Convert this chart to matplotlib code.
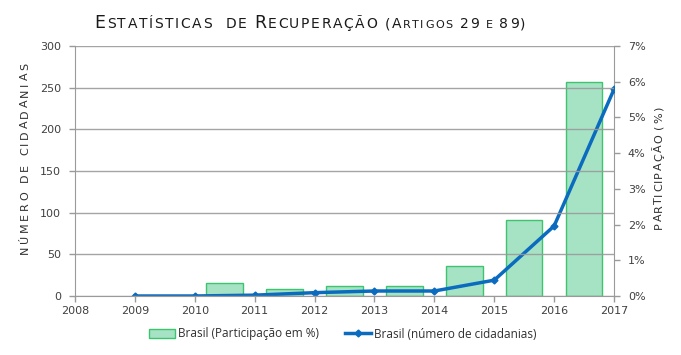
import matplotlib
matplotlib.use("Agg")
import matplotlib.pyplot as plt
import numpy as np
from matplotlib.font_manager import FontProperties

years = [2008, 2009, 2010, 2011, 2012, 2013, 2014, 2015, 2016, 2017]
line_years = [2009, 2010, 2011, 2012, 2013, 2014, 2015, 2016, 2017]
cidadanias = [0, 0, 1, 4, 6, 6, 19, 84, 248]
bar_years = [2010, 2011, 2012, 2013, 2014, 2015, 2016]
participacao = [0.36, 0.19, 0.29, 0.29, 0.83, 2.12, 5.98]
left_ticks = [0, 50, 100, 150, 200, 250, 300]
right_ticks = [0, 1, 2, 3, 4, 5, 6, 7]

W, H = 681, 355
fig = plt.figure(figsize=(W / 100, H / 100), dpi=100)
ax1 = fig.add_axes([75 / W, 1 - 296 / H, (614 - 75) / W, (296 - 46) / H])
ax2 = ax1.twinx()
ax1.set_zorder(ax2.get_zorder() + 1)
ax1.patch.set_visible(False)

gray = "#9a9a9a"
txt = "#404040"

# bars (right axis), centered between year ticks
xb = [y + 0.5 for y in bar_years]
ax2.bar(xb, participacao, width=0.61, color="#a6e3c4", edgecolor="#3cc46e",
        linewidth=1.0, label="Brasil (Participação em %)")
ax2.set_ylim(0, 7)
ax2.set_yticks(right_ticks)
ax2.set_yticklabels([f"{t}%" for t in right_ticks])

ln, = ax1.plot(line_years, cidadanias, color="#0a6bbf", lw=2.5, marker="D",
               markersize=3.5, label="Brasil (número de cidadanias)")
ax1.set_ylim(0, 300)
ax1.set_yticks(left_ticks)
ax1.set_xlim(2008, 2017)
ax1.set_xticks(years)
ax1.grid(axis="y", color=gray, lw=1.0, alpha=0.9)
ax1.set_axisbelow(False)

for a in (ax1, ax2):
    a.spines["top"].set_visible(False)
    for s in ("left", "right", "bottom"):
        a.spines[s].set_color(gray)
    a.tick_params(colors=gray, labelcolor=txt, labelsize=8, length=4, width=1)
ax2.spines["left"].set_visible(False)
ax2.spines["bottom"].set_visible(False)
ax1.spines["right"].set_visible(False)
ax1.tick_params(axis="x", pad=3)
ax1.tick_params(axis="y", pad=6)
ax2.tick_params(axis="y", pad=6)

# legend
handles = [ax2.containers[0], ln]
leg = fig.legend(handles, [h.get_label() for h in handles], loc="center",
                 bbox_to_anchor=(343 / W, 1 - 334 / H), ncol=2, frameon=False,
                 prop={"family": "Open Sans", "size": 8.5}, handlelength=2.2,
                 columnspacing=2.2, handletextpad=0.25)
for t in leg.get_texts():
    t.set_color("#303030")

renderer = fig.canvas.get_renderer()


def spaced(pieces, x, y, track, rotation=0, color="#303030", family="DejaVu Sans"):
    widths = []
    for ch, sz in pieces:
        fp = FontProperties(family=family, size=sz)
        if ch == " ":
            w, _, _ = renderer.get_text_width_height_descent("a a", fp, ismath=False)
            w2, _, _ = renderer.get_text_width_height_descent("aa", fp, ismath=False)
            w = w - w2
        else:
            w, _, _ = renderer.get_text_width_height_descent(ch, fp, ismath=False)
        widths.append(w)
    total = sum(widths) + track * (len(pieces) - 1)
    pos = -total / 2
    for (ch, sz), w in zip(pieces, widths):
        c = pos + w / 2
        if rotation == 0:
            fig.text((x + c) / W, 1 - y / H, ch, size=sz, family=family, color=color,
                     ha="center", va="baseline")
        else:
            fig.text(x / W, 1 - (y - c) / H, ch, size=sz, family=family, color=color,
                     ha="center", va="center", rotation=90, rotation_mode="anchor")
        pos += w + track


def smallcaps(s, big, small):
    out = []
    for ch in s:
        if ch.isupper() or ch.isdigit() or ch in "()":
            out.append((ch, big))
        else:
            out.append((ch.upper(), small))
    return out


spaced(smallcaps("Estatísticas  de Recuperação", 12.5, 10) +
       [(" ", 9.5)] + smallcaps("(Artigos 29 e 89)", 10, 8),
       310, 28, 1.6, color="#1a1a1a")

spaced([(c, 8) for c in "NÚMERO DE CIDADANIAS"], 25, 158, 2.6, rotation=90, color="#303030")
spaced([(c, 8) for c in "PARTICIPAÇÃO (%)"], 659, 168, 1.2, rotation=90, color="#303030")

fig.savefig("out.png", dpi=100)
